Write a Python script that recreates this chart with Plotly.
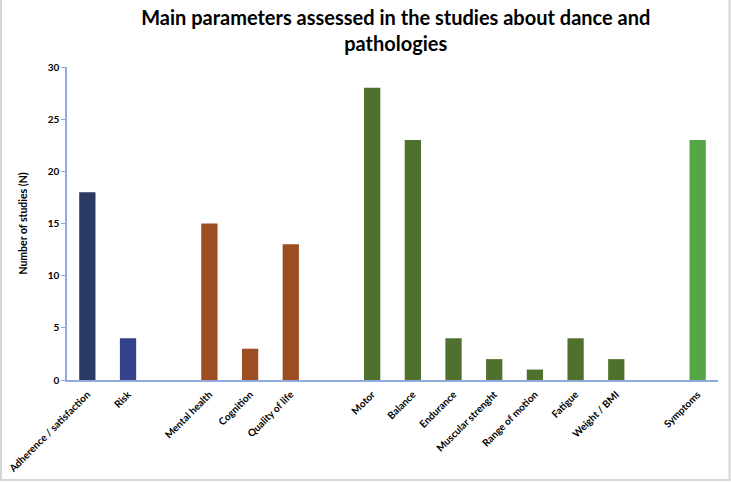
import plotly.graph_objects as go

categories = ["Adherence / satisfaction", "Risk", " ",
              "Mental health", "Cognition", "Quality of life", "  ",
              "Motor", "Balance", "Endurance", "Muscular strenght", "Range of motion",
              "Fatigue", "Weight / BMI", "   ", "Symptoms"]
values = [18, 4, None, 15, 3, 13, None, 28, 23, 4, 2, 1, 4, 2, None, 23]
colors = ["#2A3A62", "#35418A", "#FFFFFF",
          "#9C4D22", "#9C4D22", "#9C4D22", "#FFFFFF",
          "#50702E", "#50702E", "#50702E", "#50702E", "#50702E", "#50702E", "#50702E", "#FFFFFF",
          "#56A546"]
y_ticks = [0, 5, 10, 15, 20, 25, 30]

W, H = 731, 482
ml, mr, mt, mb = 67, 13, 67, 102
pw, ph = W - ml - mr, H - mt - mb

fig = go.Figure(go.Bar(
    x=categories, y=values, marker=dict(color=colors, line=dict(width=0)),
    width=0.4, hoverinfo="x+y"))

axis_color = "#8FAADC"
font_family = "Lato, 'Open Sans', sans-serif"

fig.update_layout(
    width=W, height=H,
    margin=dict(l=ml, r=mr, t=mt, b=mb, autoexpand=False),
    paper_bgcolor="white", plot_bgcolor="white",
    title=dict(text="<b>Main parameters assessed in the studies about dance and<br>pathologies</b>",
               x=0.505, xanchor="center", xref="paper",
               y=1 - 25 / H, yanchor="middle", yref="container",
               font=dict(family=font_family, size=20, color="#000000")),
    showlegend=False,
    font=dict(family=font_family, color="#000000"),
)
fig.update_xaxes(
    type="category", categoryorder="array", categoryarray=categories,
    tickvals=categories, ticktext=[f"<b>{c}</b>" if c.strip() else c for c in categories],
    showline=True, linecolor=axis_color, linewidth=1.5,
    showgrid=False, ticks="", tickangle=-45, automargin=False,
    ticklabelstandoff=3,
    tickfont=dict(family=font_family, size=10, color="#000000"),
    range=[-0.5, len(categories) - 0.5])
fig.update_yaxes(
    range=[0, 30], tickvals=y_ticks, ticktext=[f"<b>{t}</b>" for t in y_ticks],
    showline=True, linecolor=axis_color, linewidth=1.5,
    ticks="outside", ticklen=4, tickcolor=axis_color,
    showgrid=False, zeroline=False, automargin=False,
    tickfont=dict(family=font_family, size=10, color="#000000"),
    title=dict(text="<b>Number of studies (N)</b>", standoff=18,
               font=dict(family=font_family, size=10.5, color="#000000")))

# light gray frame (left, right, bottom) around the chart
def px_x(p):
    return (p - ml) / pw

def px_y(p):
    return (H - mb - p) / ph

frame = dict(color="#D6D6D6", width=2)
fig.add_shape(type="line", xref="paper", yref="paper",
              x0=px_x(1), x1=px_x(1), y0=px_y(0), y1=px_y(480), line=frame, layer="below")
fig.add_shape(type="line", xref="paper", yref="paper",
              x0=px_x(729.5), x1=px_x(729.5), y0=px_y(0), y1=px_y(480), line=frame, layer="below")
fig.add_shape(type="line", xref="paper", yref="paper",
              x0=px_x(0), x1=px_x(730.5), y0=px_y(480), y1=px_y(480), line=frame, layer="below")

fig.write_html("out.html", config={"displayModeBar": False},
               post_script="document.body.style.margin='0';document.body.style.overflow='hidden';")
